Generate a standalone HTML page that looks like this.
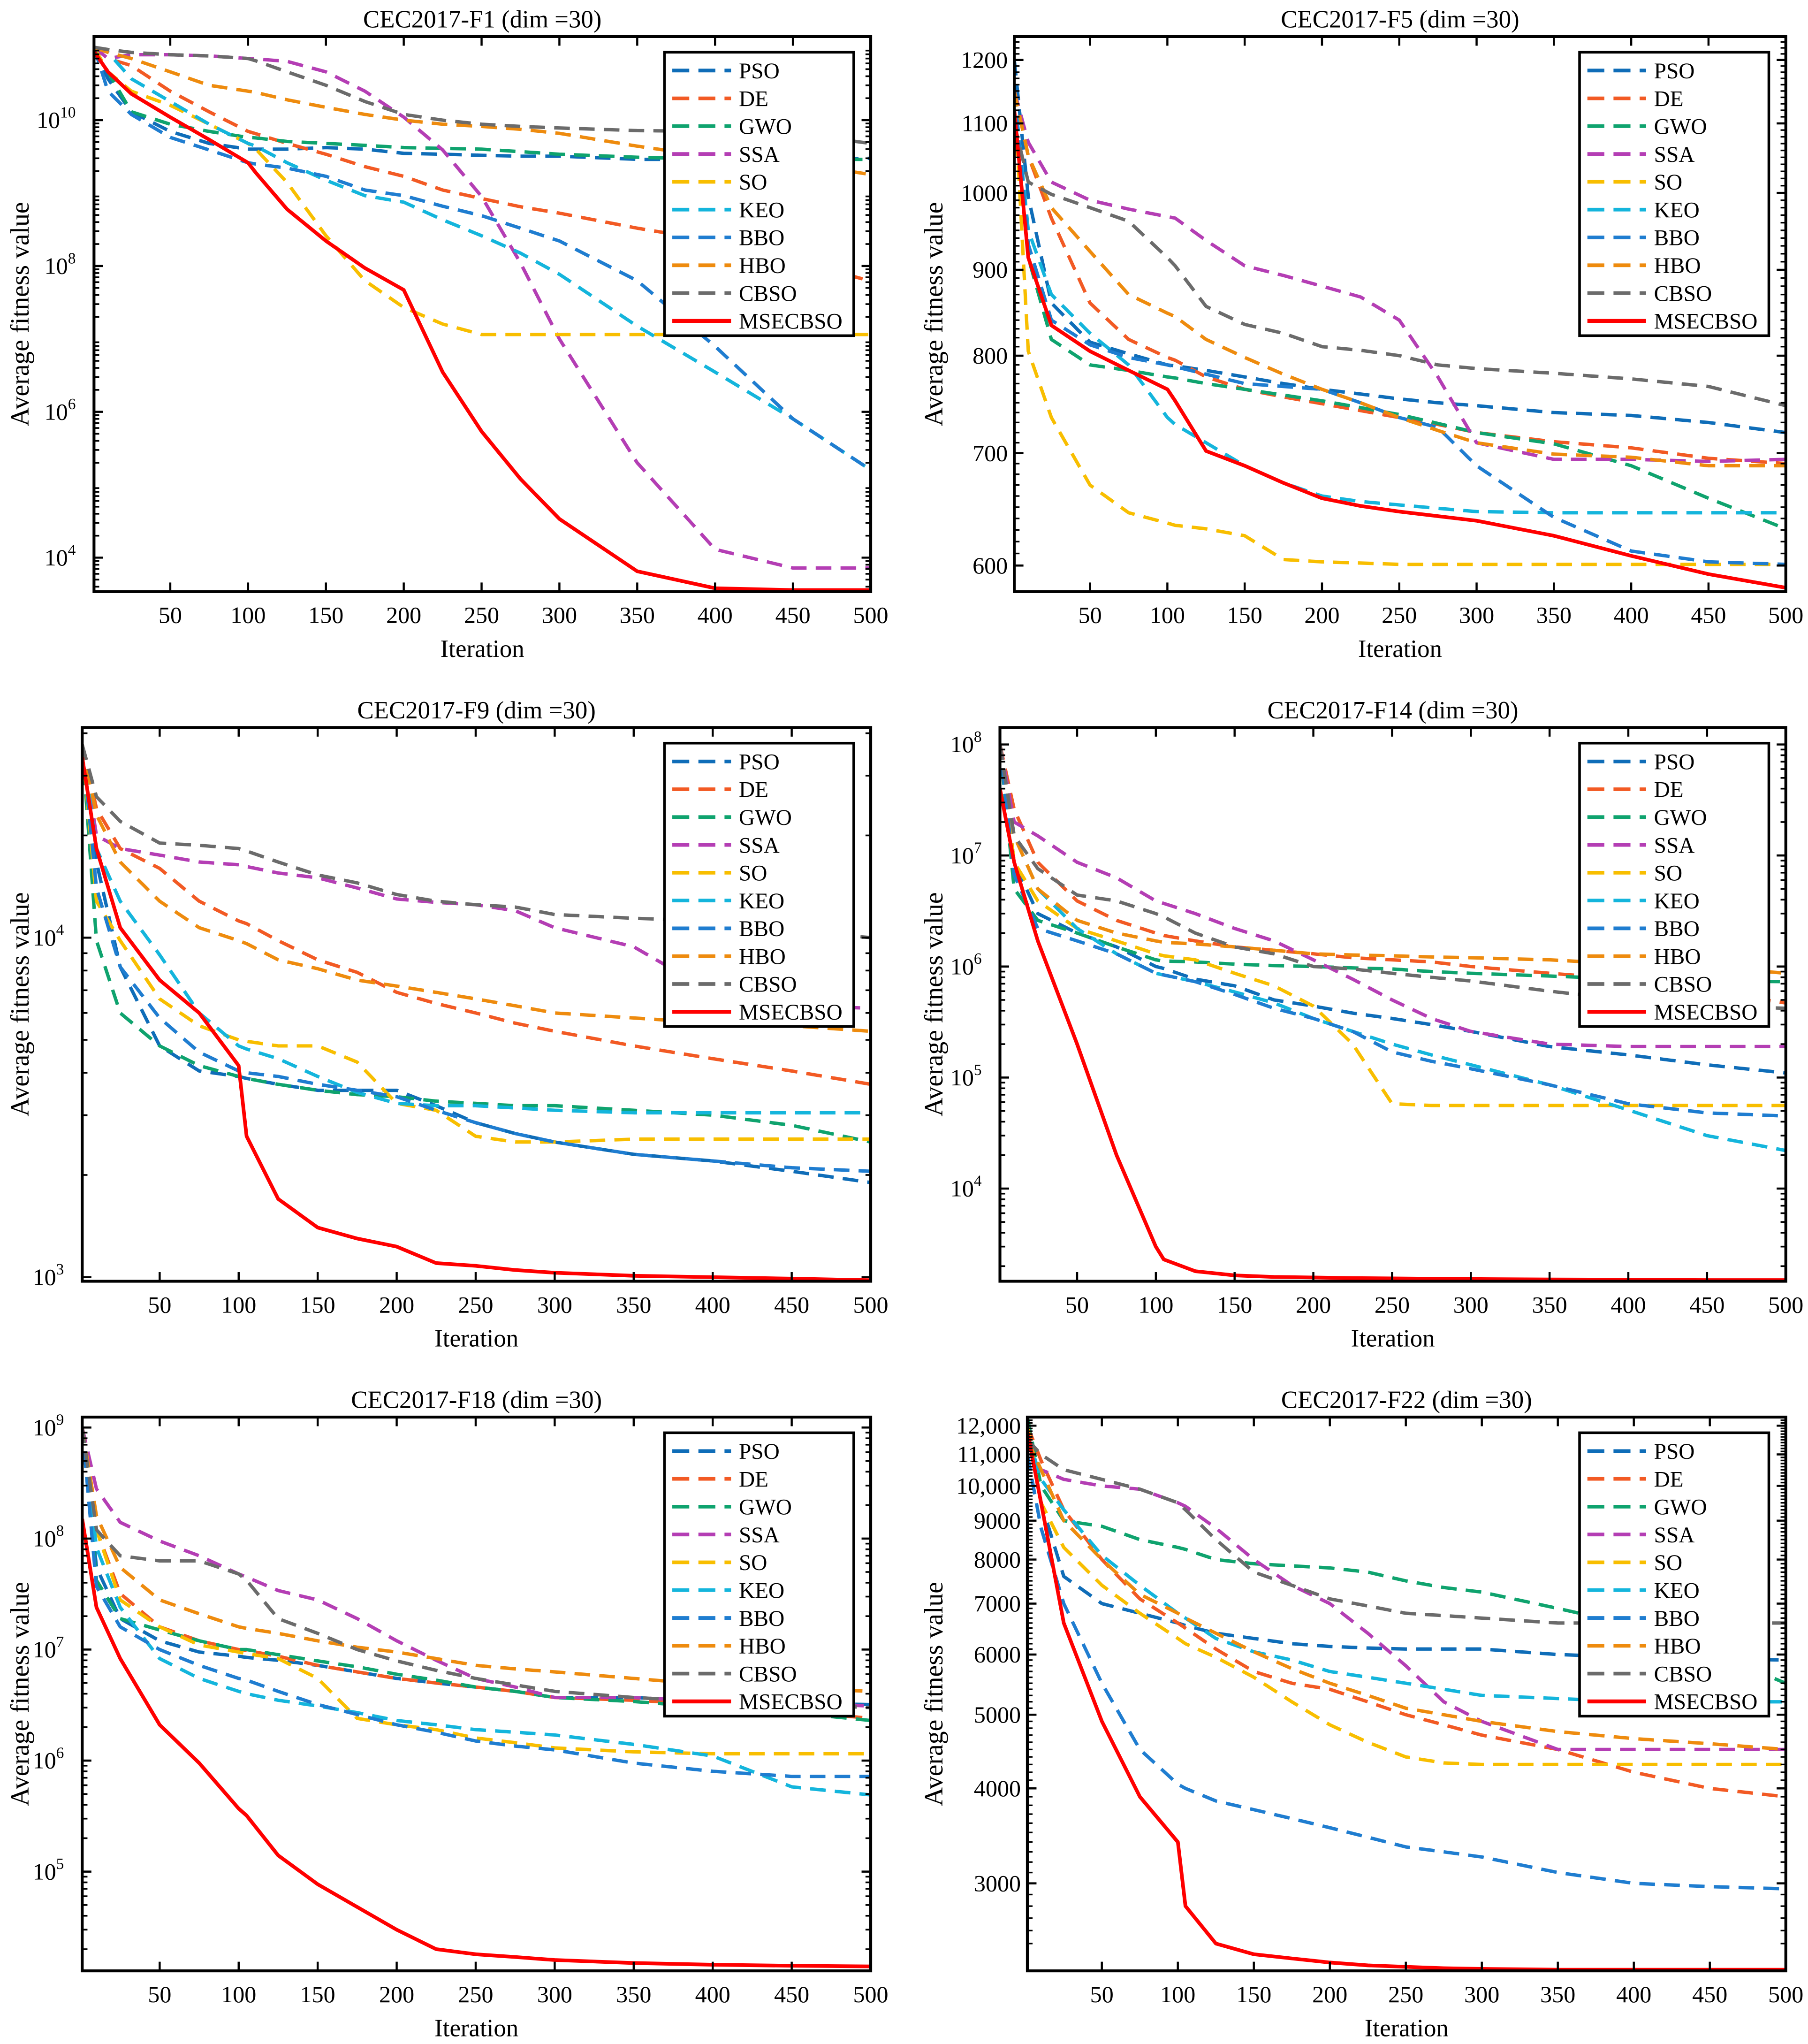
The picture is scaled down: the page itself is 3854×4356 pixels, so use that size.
<!DOCTYPE html>
<html><head><meta charset="utf-8">
<style>
html,body{margin:0;padding:0;background:#fff;}
svg{display:block;}
text{font-family:"Liberation Serif",serif;fill:#000;}
</style></head>
<body>
<svg id="fig" xmlns="http://www.w3.org/2000/svg" width="3854" height="4356" viewBox="0 0 1385 1565" preserveAspectRatio="none">
<rect x="0" y="0" width="1385" height="1565" fill="#fff"/>
</svg>
<script>
const ITER=[1,10,25,50,75,100,105,125,150,175,200,225,250,275,300,350,400,450,500];
const NAMES=["PSO","DE","GWO","SSA","SO","KEO","BBO","HBO","CBSO","MSECBSO"];
const TITLES=["CEC2017-F1 (dim =30)","CEC2017-F5 (dim =30)","CEC2017-F9 (dim =30)","CEC2017-F14 (dim =30)","CEC2017-F18 (dim =30)","CEC2017-F22 (dim =30)"];
const X_TICKS=[50,100,150,200,250,300,350,400,450,500];
// F1
const F1_PSO=[1e11,3.7e10,1.3e10,7e9,4.8e9,4e9,4e9,4e9,4.2e9,4e9,3.5e9,3.4e9,3.3e9,3.2e9,3.2e9,2.9e9,2.9e9,2.9e9,3e9];
const F1_DE=[1e11,7e10,5.6e10,2.5e10,1.3e10,7e9,6.5e9,4.8e9,3.4e9,2.3e9,1.7e9,1.1e9,8.4e8,6.5e8,5.3e8,3.3e8,2.2e8,1.2e8,6.2e7];
const F1_GWO=[1e11,4.6e10,1.3e10,8.8e9,7e9,5.8e9,5.7e9,5.1e9,4.8e9,4.5e9,4.2e9,4.1e9,4e9,3.7e9,3.4e9,3.1e9,2.9e9,2.9e9,2.9e9];
const F1_SSA=[1e11,7e10,7.9e10,7.9e10,7.6e10,7e10,6.9e10,6.4e10,4.6e10,2.5e10,1.1e10,3.9e9,9e8,1.1e8,1e7,2e5,1.3e4,7.2e3,7.2e3];
const F1_SO=[1e11,4.6e10,2.5e10,1.6e10,8.8e9,4.8e9,4e9,1.4e9,2.6e8,6.3e7,2.7e7,1.6e7,1.15e7,1.15e7,1.15e7,1.15e7,1.15e7,1.15e7,1.15e7];
const F1_KEO=[1e11,8.5e10,3.7e10,1.8e10,8.8e9,4.8e9,4.4e9,2.6e9,1.5e9,9.2e8,7.5e8,4.3e8,2.6e8,1.5e8,7.7e7,1.5e7,3.5e6,8e5,1.6e5];
const F1_BBO=[1e11,2.5e10,1.2e10,5.8e9,3.9e9,2.6e9,2.5e9,2.2e9,1.7e9,1.1e9,9.2e8,6.6e8,4.9e8,3.3e8,2.2e8,6.3e7,7.9e6,8e5,1.6e5];
const F1_HBO=[1e11,8.5e10,7e10,4.6e10,3e10,2.5e10,2.4e10,1.9e10,1.5e10,1.2e10,1e10,8.8e9,8.2e9,7.5e9,6.6e9,4.4e9,3.1e9,2.6e9,1.8e9];
const F1_CBSO=[1e11,9.3e10,8.5e10,7.9e10,7.6e10,7e10,6.5e10,4.6e10,3e10,1.8e10,1.2e10,1e10,8.8e9,8.2e9,7.8e9,7.2e9,7e9,6.6e9,4.8e9];
const F1_MSE=[8.8e10,4.6e10,2.3e10,1.1e10,5.4e9,2.6e9,1.9e9,6e8,2.2e8,9.4e7,4.7e7,3.5e6,5.4e5,1.2e5,3.4e4,6.5e3,3.8e3,3.6e3,3.6e3];
// F5
const F5_PSO=[1200,995,860,815,802,790,789,784,777,770,764,759,754,750,747,740,737,730,720];
const F5_DE=[1150,1052,966,860,818,798,795,777,764,756,749,742,735,728,720,711,705,695,690];
const F5_GWO=[1150,915,818,790,784,777,776,770,764,758,752,745,738,729,720,709,688,658,631];
const F5_SSA=[1150,1072,1015,990,978,968,966,937,905,893,880,867,840,777,710,694,694,692,694];
const F5_SO=[1150,805,735,670,645,636,634,631,625,605,603,602,601,601,601,601,601,601,601];
const F5_KEO=[1150,950,870,825,790,735,728,710,688,672,660,655,652,649,646,645,645,645,645];
const F5_BBO=[1150,932,840,812,798,790,788,780,770,767,764,750,735,725,688,641,612,603,601];
const F5_HBO=[1150,1052,980,923,870,848,844,818,798,780,764,750,735,722,710,699,696,688,688];
const F5_CBSO=[1100,1015,998,980,962,915,905,856,835,825,810,806,800,790,786,781,775,767,747];
const F5_MSE=[1120,915,834,805,784,764,752,702,688,672,658,651,646,642,638,625,608,593,582];
// F9
const F9_PSO=[3.7e4,1.67e4,8.2e3,4.8e3,4.05e3,3.9e3,3.85e3,3.7e3,3.55e3,3.55e3,3.55e3,3.2e3,2.85e3,2.65e3,2.5e3,2.3e3,2.2e3,2.05e3,1.9e3];
const F9_DE=[3.7e4,2.4e4,1.83e4,1.6e4,1.28e4,1.12e4,1.1e4,9.8e3,8.6e3,7.9e3,6.9e3,6.4e3,6e3,5.6e3,5.3e3,4.8e3,4.4e3,4.05e3,3.7e3];
const F9_GWO=[3.7e4,9.8e3,6e3,4.8e3,4.2e3,3.9e3,3.85e3,3.7e3,3.55e3,3.45e3,3.4e3,3.3e3,3.25e3,3.2e3,3.2e3,3.1e3,3e3,2.8e3,2.5e3];
const F9_SSA=[3.7e4,2e4,1.83e4,1.75e4,1.67e4,1.64e4,1.62e4,1.55e4,1.5e4,1.4e4,1.3e4,1.27e4,1.25e4,1.2e4,1.07e4,9.4e3,6.9e3,6.3e3,6.2e3];
const F9_SO=[3.7e4,1.28e4,9.8e3,6.6e3,5.5e3,5e3,4.95e3,4.8e3,4.8e3,4.3e3,3.25e3,3.1e3,2.6e3,2.5e3,2.5e3,2.55e3,2.55e3,2.55e3,2.55e3];
const F9_KEO=[3.7e4,1.83e4,1.28e4,8.9e3,6e3,4.8e3,4.7e3,4.4e3,3.9e3,3.5e3,3.25e3,3.2e3,3.2e3,3.15e3,3.1e3,3.05e3,3.05e3,3.05e3,3.05e3];
const F9_BBO=[3.7e4,1.4e4,8.2e3,5.8e3,4.6e3,4.05e3,4e3,3.9e3,3.7e3,3.55e3,3.4e3,3.1e3,2.85e3,2.65e3,2.5e3,2.3e3,2.2e3,2.1e3,2.05e3];
const F9_HBO=[3.7e4,2.3e4,1.67e4,1.28e4,1.07e4,9.8e3,9.6e3,8.6e3,8.1e3,7.5e3,7.2e3,6.9e3,6.6e3,6.3e3,6e3,5.8e3,5.6e3,5.5e3,5.3e3];
const F9_CBSO=[3.7e4,2.6e4,2.2e4,1.9e4,1.87e4,1.83e4,1.8e4,1.67e4,1.53e4,1.45e4,1.34e4,1.28e4,1.25e4,1.23e4,1.17e4,1.14e4,1.12e4,1.05e4,1e4];
const F9_MSE=[3.4e4,1.83e4,1.07e4,7.5e3,6e3,4.2e3,2.6e3,1.7e3,1.4e3,1.3e3,1.23e3,1.1e3,1.08e3,1.05e3,1.03e3,1.01e3,1e3,990,980];
// F14
const F14_PSO=[1e8,8.7e6,3e6,2e6,1.5e6,1e6,9.6e5,7.7e5,6.7e5,5e5,4.4e5,3.8e5,3.4e5,3e5,2.6e5,1.9e5,1.6e5,1.3e5,1.1e5];
const F14_DE=[1e8,2.6e7,8.7e6,3.9e6,2.6e6,2e6,1.9e6,1.7e6,1.5e6,1.4e6,1.3e6,1.2e6,1.15e6,1.1e6,1e6,8.7e5,7.7e5,5.9e5,4.7e5];
const F14_GWO=[1e8,5e6,2.6e6,2e6,1.5e6,1.15e6,1.12e6,1.1e6,1.05e6,1.02e6,1e6,9.7e5,9.5e5,9e5,8.7e5,8.2e5,7.7e5,7.4e5,7.3e5];
const F14_SSA=[1e8,2e7,1.5e7,8.7e6,6.3e6,3.9e6,3.7e6,3e6,2.2e6,1.7e6,1.15e6,7.7e5,5e5,3.4e5,2.6e5,2e5,1.9e5,1.9e5,1.9e5];
const F14_SO=[1e8,8.7e6,3.9e6,2.2e6,1.7e6,1.3e6,1.25e6,1.15e6,8.7e5,6.7e5,4.4e5,2e5,5.8e4,5.6e4,5.6e4,5.6e4,5.6e4,5.6e4,5.6e4];
const F14_KEO=[1e8,1.5e7,5e6,2.2e6,1.3e6,8.7e5,8.4e5,7.3e5,5.9e5,4.7e5,3.4e5,2.6e5,2e5,1.6e5,1.3e5,8.6e4,5.1e4,3e4,2.2e4];
const F14_BBO=[1e8,6.7e6,2.2e6,1.7e6,1.3e6,8.7e5,8.4e5,7.3e5,5.6e5,4.2e5,3.4e5,2.6e5,1.7e5,1.4e5,1.2e5,8.6e4,5.8e4,4.8e4,4.5e4];
const F14_HBO=[1e8,1.5e7,5e6,2.6e6,2e6,1.7e6,1.65e6,1.6e6,1.5e6,1.4e6,1.3e6,1.27e6,1.25e6,1.22e6,1.2e6,1.15e6,1.05e6,1e6,8.7e5];
const F14_CBSO=[1e8,1.5e7,7.6e6,4.4e6,3.9e6,3e6,2.8e6,2e6,1.5e6,1.3e6,1e6,9.5e5,8.7e5,8e5,7.4e5,6e5,5e5,4.4e5,4.2e5];
const F14_MSE=[4e7,8.7e6,1.7e6,2e5,2e4,3e3,2.3e3,1.8e3,1.65e3,1.6e3,1.58e3,1.56e3,1.55e3,1.54e3,1.53e3,1.52e3,1.51e3,1.5e3,1.5e3];
// F18
const F18_PSO=[1e9,5.5e7,1.9e7,1.2e7,9.5e6,8.7e6,8.5e6,8e6,7.2e6,6.3e6,5.5e6,5e6,4.6e6,4.2e6,3.7e6,3.7e6,3.4e6,3.3e6,3.2e6];
const F18_DE=[1e9,1.2e8,3.2e7,1.6e7,1.2e7,1e7,9.8e6,8.7e6,7.2e6,6.3e6,5.5e6,5e6,4.6e6,4.2e6,3.7e6,3.5e6,3.2e6,2.8e6,2.4e6];
const F18_GWO=[1e9,4.2e7,1.9e7,1.5e7,1.2e7,1e7,1e7,9e6,7.9e6,7e6,6e6,5.3e6,4.6e6,4.2e6,3.7e6,3.4e6,3e6,2.7e6,2.3e6];
const F18_SSA=[1e9,2.8e8,1.4e8,9.5e7,7e7,4.8e7,4.5e7,3.4e7,2.8e7,1.9e7,1.2e7,8e6,5.5e6,4.6e6,3.7e6,3.7e6,3.4e6,3.3e6,3.1e6];
const F18_SO=[1e9,1.2e8,2.8e7,1.6e7,1.1e7,9.5e6,9.2e6,8.3e6,5.5e6,2.4e6,2.1e6,1.9e6,1.6e6,1.45e6,1.3e6,1.2e6,1.15e6,1.15e6,1.15e6];
const F18_KEO=[1e9,8.3e7,2.4e7,8.3e6,5.5e6,4.2e6,4e6,3.5e6,3.1e6,2.7e6,2.3e6,2.1e6,1.9e6,1.8e6,1.7e6,1.4e6,1.1e6,5.8e5,4.9e5];
const F18_BBO=[1e9,3.7e7,1.6e7,1e7,7.2e6,5.5e6,5.3e6,4.2e6,3.2e6,2.6e6,2.1e6,1.8e6,1.5e6,1.35e6,1.25e6,9.5e5,8e5,7.2e5,7.2e5];
const F18_HBO=[1e9,1.6e8,5.5e7,2.8e7,2.1e7,1.6e7,1.55e7,1.4e7,1.2e7,1.05e7,9.5e6,8.3e6,7.2e6,6.7e6,6.3e6,5.5e6,4.8e6,4.5e6,4.2e6];
const F18_CBSO=[1e9,1.2e8,7e7,6.3e7,6.3e7,4.8e7,4.2e7,1.9e7,1.4e7,1e7,7.9e6,6.5e6,5.5e6,4.8e6,4.2e6,3.7e6,3.4e6,3.2e6,3e6];
const F18_MSE=[1.5e8,2.4e7,8.3e6,2.1e6,9.5e5,3.7e5,3.2e5,1.4e5,7.7e4,4.8e4,3e4,2e4,1.8e4,1.7e4,1.6e4,1.5e4,1.45e4,1.42e4,1.4e4];
// F22
const F22_PSO=[12000,9500,7600,7000,6800,6600,6550,6400,6300,6200,6150,6120,6100,6100,6100,6000,5950,5920,5900];
const F22_DE=[12000,10800,9300,8000,7100,6600,6500,6100,5700,5500,5400,5200,5000,4850,4700,4500,4200,4000,3900];
const F22_GWO=[12300,10000,9000,8850,8500,8300,8250,8000,7900,7850,7800,7700,7500,7350,7250,6900,6550,6050,5500];
const F22_SSA=[11500,10500,10200,10000,9900,9500,9400,8800,8000,7400,7000,6400,5800,5200,4900,4500,4500,4500,4500];
const F22_SO=[12000,9500,8300,7400,6800,6300,6200,5950,5600,5200,4850,4600,4400,4320,4300,4300,4300,4300,4300];
const F22_KEO=[11700,10200,9300,8100,7400,6800,6700,6300,6050,5900,5700,5600,5500,5400,5300,5250,5200,5200,5200];
const F22_BBO=[11000,8800,7000,5500,4500,4050,4000,3850,3750,3650,3550,3450,3350,3300,3250,3100,3000,2970,2950];
const F22_HBO=[11500,10500,9000,8000,7200,6800,6700,6400,6050,5750,5500,5300,5100,5000,4900,4750,4650,4580,4500];
const F22_CBSO=[11500,11000,10500,10200,9900,9500,9300,8500,7700,7400,7100,6950,6800,6750,6700,6600,6600,6600,6600];
const F22_MSE=[11800,9500,6600,4900,3900,3400,2800,2500,2420,2390,2360,2340,2330,2320,2315,2310,2310,2310,2310];
const YT1=[1e4,1e6,1e8,1e10];
const YT2=[600,700,800,900,1000,1100,1200];
const YT3=[1e3,1e4];
const YT4=[1e4,1e5,1e6,1e7,1e8];
const YT5=[1e5,1e6,1e7,1e8,1e9];
const YT6=[3000,4000,5000,6000,7000,8000,9000,10000,11000,12000];

const COLORS=["#0F6DB8","#F25A24","#0FA36E","#B43EB4","#F8BE00","#14B5DC","#1F7DD0","#EE8B0E","#6B6B6B","#FF0000"];
const NS="http://www.w3.org/2000/svg";
const svg=document.getElementById('fig');
function mk(tag,attrs,parent){const e=document.createElementNS(NS,tag);for(const k in attrs)e.setAttribute(k,attrs[k]);(parent||svg).appendChild(e);return e;}

const panels=[
 {series:[F1_PSO,F1_DE,F1_GWO,F1_SSA,F1_SO,F1_KEO,F1_BBO,F1_HBO,F1_CBSO,F1_MSE],L:72,R:667,T:28,B:453,lo:3.534,hi:11.146,ticks:YT1,fmt:'exp',minor:true},
 {series:[F5_PSO,F5_DE,F5_GWO,F5_SSA,F5_SO,F5_KEO,F5_BBO,F5_HBO,F5_CBSO,F5_MSE],L:777,R:1368,T:28,B:453,lo:2.7626,hi:3.0931,ticks:YT2,fmt:'num',minor:false,lin:50},
 {series:[F9_PSO,F9_DE,F9_GWO,F9_SSA,F9_SO,F9_KEO,F9_BBO,F9_HBO,F9_CBSO,F9_MSE],L:63,R:667,T:557,B:981,lo:2.988,hi:4.619,ticks:YT3,fmt:'exp',minor:true},
 {series:[F14_PSO,F14_DE,F14_GWO,F14_SSA,F14_SO,F14_KEO,F14_BBO,F14_HBO,F14_CBSO,F14_MSE],L:766,R:1368,T:557,B:981,lo:3.165,hi:8.153,ticks:YT4,fmt:'exp',minor:true},
 {series:[F18_PSO,F18_DE,F18_GWO,F18_SSA,F18_SO,F18_KEO,F18_BBO,F18_HBO,F18_CBSO,F18_MSE],L:63,R:667,T:1085,B:1509,lo:4.106,hi:9.094,ticks:YT5,fmt:'exp',minor:true},
 {series:[F22_PSO,F22_DE,F22_GWO,F22_SSA,F22_SO,F22_KEO,F22_BBO,F22_HBO,F22_CBSO,F22_MSE],L:787,R:1368,T:1085,B:1509,lo:3.362,hi:4.0905,ticks:YT6,fmt:'comma',minor:false,lin:500}
];

panels.forEach((p,pi)=>{
 const g=mk('g',{});
 
 
 const xs=it=>p.L+(it-1)*(p.R-p.L)/499;
 const ys=v=>p.B-(Math.log10(v)-p.lo)/(p.hi-p.lo)*(p.B-p.T);
 const cid='clip'+pi;
 const cp=mk('clipPath',{id:cid},g);
 mk('rect',{x:p.L,y:p.T,width:p.R-p.L,height:p.B-p.T},cp);
 const t=mk('text',{x:(p.L+p.R)/2,y:p.T-7,'text-anchor':'middle','font-size':19},g);
 t.textContent=TITLES[pi];
 
 
 const lg=mk('g',{'clip-path':'url(#'+cid+')'},g);
 for(let s=0;s<p.series.length;s++){
  const d=p.series[s].map((v,i)=>(i?'L':'M')+xs(ITER[i]).toFixed(1)+','+ys(v).toFixed(1)).join(' ');
  const path=mk('path',{d:d,fill:'none',stroke:COLORS[s],'stroke-width':s===9?2.8:2.6,'stroke-dasharray':s===9?'none':'12 7','stroke-linejoin':'round'},lg);
  
  
 }
 const fr=mk('rect',{x:p.L,y:p.T,width:p.R-p.L,height:p.B-p.T,fill:'none',stroke:'#000','stroke-width':2.2},g);
 
 
 X_TICKS.forEach(v=>{
  const x=xs(v);
  mk('line',{x1:x,y1:p.B,x2:x,y2:p.B-7,stroke:'#000','stroke-width':1.6},g);
  mk('line',{x1:x,y1:p.T,x2:x,y2:p.T+7,stroke:'#000','stroke-width':1.6},g);
  const tl=mk('text',{x:x,y:p.B+24,'text-anchor':'middle','font-size':18},g);
  tl.textContent=v;
  
  
 });
 const xl=mk('text',{x:(p.L+p.R)/2,y:p.B+50,'text-anchor':'middle','font-size':19},g);
 xl.textContent='Iteration';
 
 
 const yl=mk('text',{x:0,y:0,'text-anchor':'middle','font-size':20,transform:'translate('+(pi%2?722:22)+','+((p.T+p.B)/2)+') rotate(-90)'},g);
 yl.textContent='Average fitness value';
 
 
 p.ticks.forEach(v=>{
  const y=ys(v);
  mk('line',{x1:p.L,y1:y,x2:p.L+7,y2:y,stroke:'#000','stroke-width':1.6},g);
  mk('line',{x1:p.R,y1:y,x2:p.R-7,y2:y,stroke:'#000','stroke-width':1.6},g);
  const tl=mk('text',{x:p.L-5,y:y+6,'text-anchor':'end','font-size':18},g);
  
  
  if(p.fmt==='exp'){
   tl.textContent='10';
   const sp=mk('tspan',{dy:-8,'font-size':12},tl);
   sp.textContent=Math.round(Math.log10(v));
   tl.setAttribute('x',p.L-14);
  }else if(p.fmt==='comma'){
   tl.textContent=v>=10000?v.toLocaleString('en-US'):String(v);
  }else tl.textContent=v;
 });
 if(p.minor){
  for(let e=Math.floor(p.lo);e<=Math.ceil(p.hi);e++){
   for(let m=2;m<=9;m++){
    const lv=e+Math.log10(m);
    if(lv<p.lo||lv>p.hi)continue;
    const y=ys(Math.pow(10,lv));
    mk('line',{x1:p.L,y1:y,x2:p.L+4,y2:y,stroke:'#000','stroke-width':1.3},g);
    mk('line',{x1:p.R,y1:y,x2:p.R-4,y2:y,stroke:'#000','stroke-width':1.3},g);
   }
  }
 }
 if(p.lin){
  const lo=Math.pow(10,p.lo),hi=Math.pow(10,p.hi);
  for(let v=Math.ceil(lo/p.lin)*p.lin;v<=hi;v+=p.lin/10*2){
   const y=ys(v);
   mk('line',{x1:p.L,y1:y,x2:p.L+4,y2:y,stroke:'#000','stroke-width':1.2},g);
   mk('line',{x1:p.R,y1:y,x2:p.R-4,y2:y,stroke:'#000','stroke-width':1.2},g);
  }
 }
 const bx=p.R-158, by=p.T+12;
 const leg=mk('g',{},g);
 
 
 mk('rect',{x:bx,y:by,width:145,height:217,fill:'#fff',stroke:'#000','stroke-width':2},leg);
 NAMES.forEach((n,i)=>{
  const ey=by+14+i*21.3;
  const ent=mk('g',{},leg);
  
  
  mk('line',{x1:bx+6,y1:ey,x2:bx+51,y2:ey,stroke:COLORS[i],'stroke-width':i===9?3:2.8,'stroke-dasharray':i===9?'none':'13 7'},ent);
  const lt=mk('text',{x:bx+57,y:ey+6,'font-size':17},ent);
  lt.textContent=n;
 });
});
</script>
</body></html>
